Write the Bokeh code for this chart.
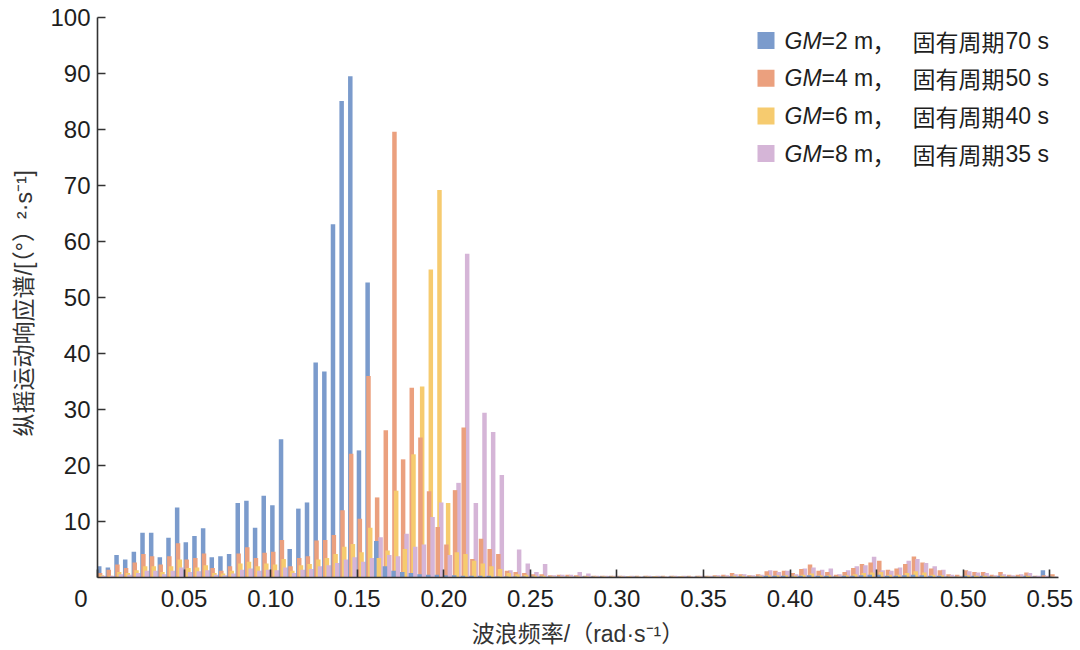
import numpy as np
from bokeh.plotting import figure
from bokeh.models import (ColumnDataSource, Range1d, FixedTicker, NumeralTickFormatter,
                          Label, BoxAnnotation)
from bokeh.embed import file_html
from bokeh.resources import INLINE

# ---------------- data ----------------
N = 111
freq = np.round(0.001 + 0.005 * np.arange(N), 4)   # wave frequency grid, rad/s

gm2 = [2.0, 1.8, 4.0, 3.2, 4.6, 8.0, 8.0, 3.6, 7.1, 12.5,
       6.3, 7.4, 8.8, 3.6, 3.8, 4.2, 13.3, 13.7, 8.9, 14.6,
       12.9, 24.7, 5.1, 12.3, 13.4, 38.4, 36.8, 63.1, 85.1, 89.5,
       22.7, 52.7, 6.5, 2.0, 1.2, 1.0, 0.8, 0.6, 0.5, 0.5,
       0.4, 0.4, 0.3, 0.3, 0.3, 0.3, 0.2, 0.2, 0.2, 0.2,
       0.2, 0.2, 0.2, 0.2, 0.2, 0.2, 0.2, 0.2, 0.2, 0.2,
       0.2, 0.2, 0.2, 0.2, 0.2, 0.2, 0.2, 0.2, 0.2, 0.2,
       0.2, 0.2, 0.2, 0.2, 0.2, 0.2, 0.2, 0.3, 0.3, 0.3,
       0.2, 0.3, 0.4, 0.3, 0.3, 0.2, 0.3, 0.3, 0.4, 0.5,
       0.5, 0.3, 0.3, 0.4, 0.5, 0.4, 0.3, 0.3, 0.2, 0.2,
       0.3, 0.3, 0.3, 0.2, 0.3, 0.2, 0.2, 0.3, 0.2, 1.3, 0.2]

gm4 = [0.8, 1.4, 2.3, 1.7, 2.7, 4.2, 3.8, 2.3, 3.8, 6.1,
       3.2, 3.5, 4.3, 1.7, 1.2, 2.0, 4.3, 5.4, 3.5, 4.4,
       4.6, 6.7, 2.0, 3.5, 3.8, 6.6, 6.7, 7.6, 12.0, 22.1,
       10.5, 36.0, 14.3, 26.3, 79.6, 21.1, 33.9, 25.0, 15.4, 9.0,
       5.9, 15.6, 26.8, 3.3, 6.9, 5.1, 4.2, 1.2, 1.0, 0.8,
       0.6, 0.6, 0.4, 0.5, 0.5, 0.4, 0.3, 0.3, 0.3, 0.3,
       0.3, 0.2, 0.3, 0.3, 0.2, 0.3, 0.3, 0.2, 0.3, 0.3,
       0.3, 0.4, 0.5, 0.8, 0.6, 0.4, 0.6, 1.1, 1.2, 1.2,
       0.8, 1.5, 2.3, 1.2, 1.0, 0.5, 1.0, 1.7, 2.4, 2.7,
       3.0, 1.4, 1.6, 2.4, 3.75, 2.7, 1.6, 1.3, 0.6, 0.5,
       1.3, 1.0, 1.0, 0.5, 1.0, 0.5, 0.5, 0.9, 0.3, 0.4, 0.6]

gm6 = [0.4, 0.3, 1.0, 0.8, 1.3, 2.0, 2.0, 1.0, 2.0, 3.2,
       1.7, 1.8, 2.2, 0.8, 0.7, 1.2, 2.5, 2.8, 2.0, 2.5,
       2.3, 3.3, 1.2, 2.2, 2.4, 3.2, 3.5, 4.2, 5.5, 6.0,
       4.5, 8.9, 3.5, 4.8, 15.5, 5.1, 22.0, 34.1, 55.0, 69.2,
       13.3, 4.5, 4.2, 3.0, 2.5, 2.0, 1.5, 0.8, 0.6, 0.5,
       0.3, 0.3, 0.2, 0.2, 0.2, 0.2, 0.2, 0.2, 0.2, 0.2,
       0.2, 0.2, 0.2, 0.2, 0.2, 0.2, 0.2, 0.2, 0.2, 0.2,
       0.2, 0.2, 0.2, 0.3, 0.3, 0.2, 0.3, 0.4, 0.4, 0.4,
       0.3, 0.5, 0.7, 0.4, 0.4, 0.2, 0.4, 0.6, 0.8, 0.9,
       1.0, 0.5, 0.5, 0.8, 1.1, 0.9, 0.5, 0.4, 0.2, 0.2,
       0.4, 0.3, 0.3, 0.2, 0.3, 0.2, 0.2, 0.3, 0.1, 0.1, 0.2]

gm8 = [0.3, 0.3, 0.6, 0.5, 0.8, 1.2, 1.2, 0.6, 1.2, 1.8,
       1.0, 1.1, 1.3, 0.5, 0.4, 0.7, 1.4, 1.6, 1.2, 1.4,
       1.3, 1.8, 0.8, 1.4, 1.5, 2.0, 2.2, 2.6, 3.2, 3.6,
       2.8, 3.5, 7.2, 4.0, 3.8, 7.8, 5.5, 5.9, 10.8, 13.4,
       4.0, 16.9, 57.8, 13.3, 29.4, 26.0, 18.3, 1.3, 5.0, 2.5,
       1.0, 2.4, 0.4, 0.5, 0.5, 1.0, 0.7, 0.3, 0.3, 0.3,
       0.3, 0.3, 0.2, 0.3, 0.3, 0.2, 0.3, 0.3, 0.2, 0.3,
       0.3, 0.4, 0.4, 0.6, 0.6, 0.4, 0.5, 1.3, 1.0, 1.2,
       0.6, 1.6, 1.8, 1.4, 1.6, 0.6, 1.3, 2.0, 2.2, 3.7,
       1.3, 1.2, 1.8, 3.0, 3.3, 2.6, 2.0, 1.4, 0.5, 0.3,
       1.1, 0.9, 0.8, 0.4, 0.6, 0.4, 0.6, 0.8, 0.3, 0.3, 0.2]

gm_values = ["2", "4", "6", "8"]
periods = ["70", "50", "40", "35"]
series = [gm2, gm4, gm6, gm8]
x_ticks = [0, 0.05, 0.10, 0.15, 0.20, 0.25, 0.30, 0.35, 0.40, 0.45, 0.50, 0.55]
y_ticks = [10, 20, 30, 40, 50, 60, 70, 80, 90, 100]

# ---------------- style ----------------
colors = ["#7b9bcc", "#eba07e", "#f6cb6f", "#d5b5d7"]
dodges = [0.0, 0.0005, 0.0015, 0.0025]
BAR_W = 0.0026
X_END = 0.555
W, H = 1080, 650
BL, BR, BT, BB = 97, 22, 17, 73
PAGE_OFF = 0
LATIN = "Liberation Sans"
CJK = "Noto Sans CJK SC"
MIXED = "'Liberation Sans', 'Noto Sans CJK SC'"
INK = "#1e1e1e"

FW = W - BL - BR
FH = H - BT - BB


def dx(px):  # page pixel -> data x
    return (px - (PAGE_OFF + BL)) / FW * X_END


def dy(py):  # page pixel -> data y
    return ((PAGE_OFF + BT + FH) - py) / FH * 100.0


# taller bars behind, shorter bars in front at each frequency
xs, tops, cols = [], [], []
for k in range(N):
    order = sorted(range(4), key=lambda s: -series[s][k])
    for s in order:
        xs.append(float(freq[k]) + dodges[s])
        tops.append(series[s][k])
        cols.append(colors[s])
src = ColumnDataSource(dict(x=xs, top=tops, color=cols))

p = figure(width=W, height=H, output_backend="svg", toolbar_location=None,
           x_range=Range1d(0, X_END), y_range=Range1d(0, 100),
           min_border_left=BL, min_border_right=BR, min_border_top=BT, min_border_bottom=BB)
p.outline_line_color = None
p.xgrid.visible = False
p.ygrid.visible = False
p.background_fill_color = "white"

p.vbar(x="x", top="top", bottom=0, width=BAR_W, fill_color="color", line_color=None, source=src)

for ax in (p.xaxis[0], p.yaxis[0]):
    ax.axis_line_color = "#333333"
    ax.axis_line_width = 1.6
    ax.major_tick_line_color = "#333333"
    ax.major_tick_line_width = 1.6
    ax.major_tick_in = 8
    ax.major_tick_out = 0
    ax.minor_tick_in = 0
    ax.minor_tick_out = 0
    ax.major_label_text_font = LATIN
    ax.major_label_text_font_size = "24px"
    ax.major_label_text_color = INK
    ax.axis_label_text_font = MIXED
    ax.axis_label_text_font_size = "23px"
    ax.axis_label_text_font_style = "normal"
    ax.axis_label_text_color = "#333333"

p.xaxis.ticker = FixedTicker(ticks=x_ticks)
p.xaxis.formatter = NumeralTickFormatter(format="0.00")
# origin label "0" sits left of the corner, as in the reference
p.xaxis.major_label_overrides = {0: "0" + "\u00a0" * 5}
p.xaxis.major_label_standoff = 7
p.xaxis.axis_label = "波浪频率/（rad·s⁻¹）"
p.xaxis.axis_label_standoff = 6

p.yaxis.ticker = FixedTicker(ticks=y_ticks)
p.yaxis.major_label_standoff = 7
p.yaxis.axis_label = "纵摇运动响应谱/[（°）²·s⁻¹]"
p.yaxis.axis_label_standoff = 10

# legend (italic GM mixed with upright text)
row_y = [40, 77.7, 115.4, 153.1]
for i in range(4):
    yc = row_y[i]
    p.add_layout(BoxAnnotation(left=dx(757), right=dx(774), top=dy(yc - 8.5), bottom=dy(yc + 8.5),
                               fill_color=colors[i], fill_alpha=1.0, line_color=None))
    parts = [(784, "GM", LATIN, "italic"),
             (821, "=" + gm_values[i] + " m", LATIN, "normal"),
             (872, "，", CJK, "normal"),
             (912, "固有周期", CJK, "normal"),
             (1005, periods[i] + "\u00a0s", LATIN, "normal")]
    for px, txt, fnt, sty in parts:
        p.add_layout(Label(x=dx(px), y=dy(yc), text=txt, text_font=fnt, text_font_style=sty,
                           text_font_size="23px", text_color=INK,
                           text_align="left", text_baseline="middle"))

open("out.html", "w").write(file_html(p, INLINE))
